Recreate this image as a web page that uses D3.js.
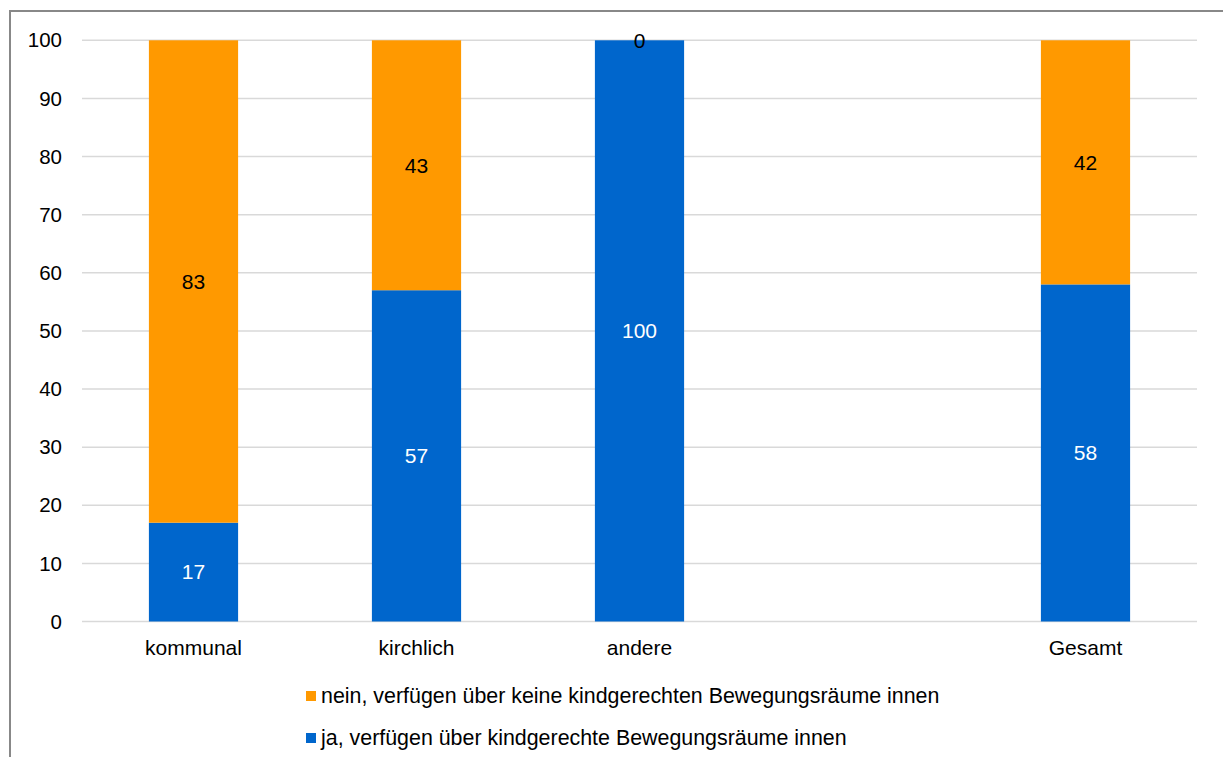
<!DOCTYPE html>
<html>
<head>
    <title>Bewegungsräume innen</title>
    <script src="https://d3js.org/d3.v7.min.js"></script>
    <style>
        body { margin: 0; background: #fff; }
        svg text { font-family: "Liberation Sans", Arial, sans-serif; font-size: 21px; }
        .legend text { font-size: 21.4px; }
        .grid line { stroke: #d9d9d9; stroke-width: 1.5; }
    </style>
</head>
<body>
    <svg width="1223" height="757"></svg>
    <script>
        // data
        const categories = ["kommunal", "kirchlich", "andere", "", "Gesamt"];
        const jaValues = [17, 57, 100, null, 58];
        const neinValues = [83, 43, 0, null, 42];
        const yTicks = [0, 10, 20, 30, 40, 50, 60, 70, 80, 90, 100];
        const seriesNames = [
            "nein, verfügen über keine kindgerechten Bewegungsräume innen",
            "ja, verfügen über kindgerechte Bewegungsräume innen"
        ];
        const colors = { ja: "#0066cc", nein: "#ff9900" };

        const svg = d3.select("svg");

        // outer frame (only left and top visible)
        svg.append("rect")
            .attr("x", 10).attr("y", 11)
            .attr("width", 1300).attr("height", 900)
            .attr("fill", "none")
            .attr("stroke", "#888")
            .attr("stroke-width", 2);

        const x = d3.scaleBand()
            .domain(categories.map((c, i) => i))
            .range([82, 1197])
            .paddingInner(0.6)
            .paddingOuter(0.3);

        const y = d3.scaleLinear().domain([0, 100]).range([621.5, 40.3]);

        // gridlines
        svg.append("g").attr("class", "grid")
            .selectAll("line").data(yTicks).join("line")
            .attr("x1", 82).attr("x2", 1197)
            .attr("y1", d => y(d)).attr("y2", d => y(d));

        // y tick labels
        svg.append("g").selectAll("text").data(yTicks).join("text")
            .attr("x", 62).attr("y", d => y(d))
            .attr("dy", "0.35em")
            .attr("text-anchor", "end")
            .style("font-size", "20.5px")
            .attr("fill", "#000")
            .text(d => d);

        // stacked bars
        const rows = categories.map((c, i) => ({ i, ja: jaValues[i], nein: neinValues[i] }))
            .filter(d => d.ja !== null);

        const g = svg.append("g");
        g.selectAll("rect.ja").data(rows).join("rect")
            .attr("class", "ja")
            .attr("x", d => x(d.i)).attr("width", x.bandwidth())
            .attr("y", d => y(d.ja)).attr("height", d => y(0) - y(d.ja))
            .attr("fill", colors.ja);
        g.selectAll("rect.nein").data(rows).join("rect")
            .attr("class", "nein")
            .attr("x", d => x(d.i)).attr("width", x.bandwidth())
            .attr("y", d => y(d.ja + d.nein)).attr("height", d => y(d.ja) - y(d.ja + d.nein))
            .attr("fill", colors.nein);

        // value labels
        g.selectAll("text.ja").data(rows).join("text")
            .attr("x", d => x(d.i) + x.bandwidth() / 2)
            .attr("y", d => y(d.ja / 2))
            .attr("dy", "0.35em")
            .attr("text-anchor", "middle")
            .attr("fill", "#fff")
            .text(d => d.ja);
        g.selectAll("text.nein").data(rows).join("text")
            .attr("x", d => x(d.i) + x.bandwidth() / 2)
            .attr("y", d => y(d.ja + d.nein / 2))
            .attr("dy", "0.35em")
            .attr("text-anchor", "middle")
            .attr("fill", "#000")
            .text(d => d.nein);

        // category labels
        svg.append("g").selectAll("text").data(categories).join("text")
            .attr("x", (d, i) => x(i) + x.bandwidth() / 2)
            .attr("y", 655)
            .attr("text-anchor", "middle")
            .attr("fill", "#000")
            .text(d => d);

        // legend
        const legend = svg.append("g").attr("class", "legend");
        const legendColors = [colors.nein, colors.ja];
        const legendY = [696, 738];
        seriesNames.forEach((name, k) => {
            legend.append("rect")
                .attr("x", 306).attr("y", legendY[k] - 5)
                .attr("width", 10).attr("height", 10)
                .attr("fill", legendColors[k]);
            legend.append("text")
                .attr("x", 321).attr("y", legendY[k])
                .attr("dy", "0.35em")
                .attr("fill", "#000")
                .text(name);
        });
    </script>
</body>
</html>
